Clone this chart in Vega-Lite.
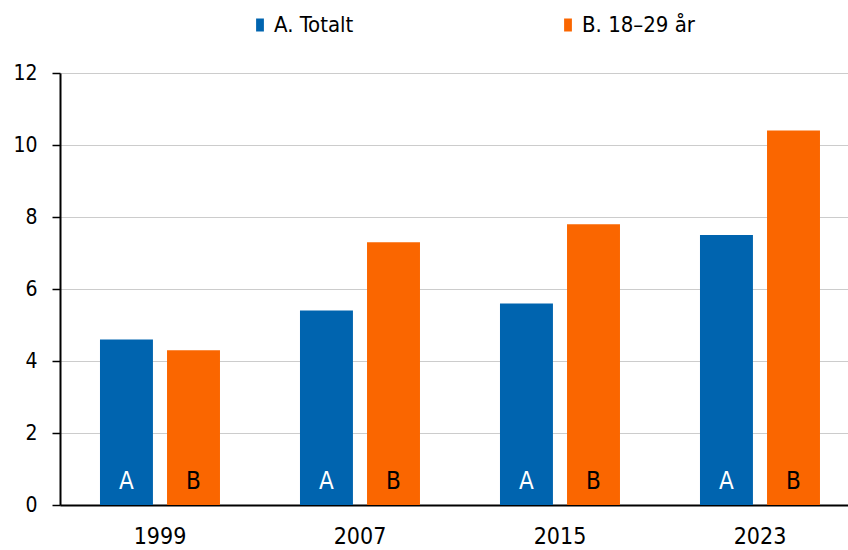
{
  "$schema": "https://vega.github.io/schema/vega-lite/v6.json",
  "width": 788,
  "height": 432,
  "autosize": "none",
  "padding": {"left": 60, "top": 73, "right": 0, "bottom": 45},
  "background": "white",
  "config": {
    "font": "DejaVu Sans Condensed, Liberation Sans, sans-serif",
    "view": {"stroke": null},
    "axis": {
      "labelFont": "DejaVu Sans Condensed, Liberation Sans, sans-serif",
      "labelColor": "black",
      "domainColor": "black",
      "domainWidth": 2,
      "title": null
    },
    "legend": {
      "labelFont": "DejaVu Sans Condensed, Liberation Sans, sans-serif"
    }
  },
  "data": {
    "values": [
      {"year": "1999", "series": "A. Totalt", "label": "A", "value": 4.6},
      {"year": "1999", "series": "B. 18–29 år", "label": "B", "value": 4.3},
      {"year": "2007", "series": "A. Totalt", "label": "A", "value": 5.4},
      {"year": "2007", "series": "B. 18–29 år", "label": "B", "value": 7.3},
      {"year": "2015", "series": "A. Totalt", "label": "A", "value": 5.6},
      {"year": "2015", "series": "B. 18–29 år", "label": "B", "value": 7.8},
      {"year": "2023", "series": "A. Totalt", "label": "A", "value": 7.5},
      {"year": "2023", "series": "B. 18–29 år", "label": "B", "value": 10.4}
    ]
  },
  "encoding": {
    "x": {
      "field": "year",
      "type": "nominal",
      "scale": {"paddingInner": 0.4, "paddingOuter": 0.17, "align": 0.588},
      "axis": {
        "labelAngle": 0,
        "ticks": false,
        "labelFontSize": 23,
        "labelPadding": 20,
        "grid": false
      }
    },
    "xOffset": {
      "field": "series",
      "type": "nominal",
      "scale": {"paddingInner": 0.21, "paddingOuter": 0}
    }
  },
  "layer": [
    {
      "mark": {"type": "bar"},
      "encoding": {
        "y": {
          "field": "value",
          "type": "quantitative",
          "scale": {"domain": [0, 12], "nice": false},
          "axis": {
            "values": [0, 2, 4, 6, 8, 10, 12],
            "grid": true,
            "gridColor": "#cccccc",
            "gridWidth": 1,
            "tickColor": "black",
            "tickWidth": 1.5,
            "tickSize": 8,
            "labelFontSize": 21,
            "labelPadding": 15
          }
        },
        "color": {
          "field": "series",
          "type": "nominal",
          "scale": {"domain": ["A. Totalt", "B. 18–29 år"], "range": ["#0064AF", "#FA6600"]},
          "legend": {
            "title": null,
            "orient": "none",
            "direction": "horizontal",
            "legendX": 189,
            "legendY": -59,
            "symbolType": "M-0.6,-1H0.6V1H-0.6Z",
            "symbolSize": 169,
            "symbolStrokeWidth": 0,
            "labelFontSize": 22,
            "labelColor": "black",
            "labelOffset": 3,
            "columnPadding": 203
          }
        }
      }
    },
    {
      "mark": {"type": "text", "fontSize": 24, "baseline": "alphabetic", "dy": -16},
      "encoding": {
        "y": {"datum": 0, "type": "quantitative"},
        "text": {"field": "label"},
        "color": {
          "condition": {"test": "datum.label === 'A'", "value": "white"},
          "value": "black"
        }
      }
    }
  ]
}
